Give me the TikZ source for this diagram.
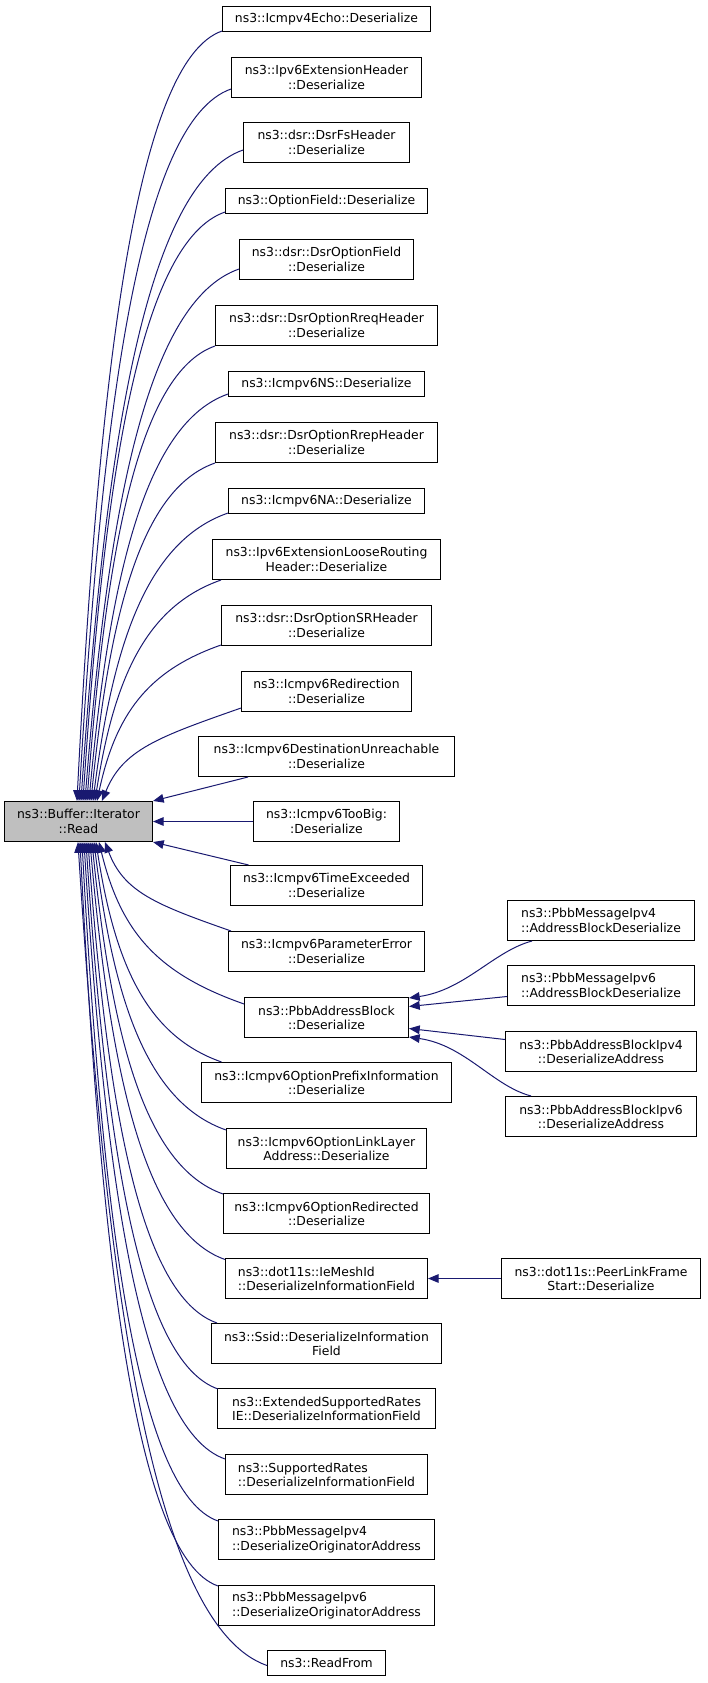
\documentclass[tikz,border=0pt]{standalone}
\usepackage{fontspec}
\setmainfont{DejaVu Sans}
\usetikzlibrary{arrows.meta}
\definecolor{edgeblue}{HTML}{191970}
\definecolor{rootgray}{HTML}{BFBFBF}
\begin{document}
\begin{tikzpicture}[x=0.75pt,y=-0.75pt,
  box/.style={draw=black, line width=0.8pt, fill=white, inner sep=0pt, align=center,
    font=\fontsize{9.3}{10.7}\selectfont, minimum height=30pt},
  one/.style={minimum height=18.75pt},
  lft/.style={align=left},
  bw/.style={minimum width=#1*0.75pt},
  call/.style={draw=edgeblue, line width=0.75pt, -{Triangle[length=8pt,width=6.5pt]}}]
\useasboundingbox (0,0) rectangle (707,1683);

\node[box, fill=rootgray, bw=148] (read) at (78.5,821.5) {ns3::Buffer::Iterator\\::Read};

\node[box, bw=208, one] (n1) at (326.5,19) {ns3::Icmpv4Echo::Deserialize};
\node[box, bw=190] (n2) at (326.5,77.5) {ns3::Ipv6ExtensionHeader\\::Deserialize};
\node[box, bw=166] (n3) at (326.5,142.5) {ns3::dsr::DsrFsHeader\\::Deserialize};
\node[box, bw=202, one] (n4) at (326.5,201) {ns3::OptionField::Deserialize};
\node[box, bw=174] (n5) at (326.5,259.5) {ns3::dsr::DsrOptionField\\::Deserialize};
\node[box, bw=222] (n6) at (326.5,325.5) {ns3::dsr::DsrOptionRreqHeader\\::Deserialize};
\node[box, bw=196, one] (n7) at (326.5,384) {ns3::Icmpv6NS::Deserialize};
\node[box, bw=222] (n8) at (326.5,442.5) {ns3::dsr::DsrOptionRrepHeader\\::Deserialize};
\node[box, bw=196, one] (n9) at (326.5,501) {ns3::Icmpv6NA::Deserialize};
\node[box, bw=228] (n10) at (326.5,559.5) {ns3::Ipv6ExtensionLooseRouting\\Header::Deserialize};
\node[box, bw=210] (n11) at (326.5,625.5) {ns3::dsr::DsrOptionSRHeader\\::Deserialize};
\node[box, bw=170] (n12) at (326.5,691.5) {ns3::Icmpv6Redirection\\::Deserialize};
\node[box, bw=256] (n13) at (326.5,756.5) {ns3::Icmpv6DestinationUnreachable\\::Deserialize};
\node[box, bw=146] (n14) at (326.5,821.5) {ns3::Icmpv6TooBig:\\:Deserialize};
\node[box, bw=192] (n15) at (326.5,885.5) {ns3::Icmpv6TimeExceeded\\::Deserialize};
\node[box, bw=196] (n16) at (326.5,951.5) {ns3::Icmpv6ParameterError\\::Deserialize};
\node[box, bw=164] (n17) at (326.5,1017.5) {ns3::PbbAddressBlock\\::Deserialize};
\node[box, bw=250] (n18) at (326.5,1082.5) {ns3::Icmpv6OptionPrefixInformation\\::Deserialize};
\node[box, bw=200] (n19) at (326.5,1148.5) {ns3::Icmpv6OptionLinkLayer\\Address::Deserialize};
\node[box, bw=206] (n20) at (326.5,1213.5) {ns3::Icmpv6OptionRedirected\\::Deserialize};
\node[box, bw=202, lft] (n21) at (326.5,1278.5) {ns3::dot11s::IeMeshId\\::DeserializeInformationField};
\node[box, bw=230] (n22) at (326.5,1343.5) {ns3::Ssid::DeserializeInformation\\Field};
\node[box, bw=218] (n23) at (326.5,1408.5) {ns3::ExtendedSupportedRates\\IE::DeserializeInformationField};
\node[box, bw=202, lft] (n24) at (326.5,1474.5) {ns3::SupportedRates\\::DeserializeInformationField};
\node[box, bw=216, lft] (n25) at (326.5,1539.5) {ns3::PbbMessageIpv4\\::DeserializeOriginatorAddress};
\node[box, bw=216, lft] (n26) at (326.5,1605.5) {ns3::PbbMessageIpv6\\::DeserializeOriginatorAddress};
\node[box, bw=118, one] (n27) at (326.5,1663) {ns3::ReadFrom};

\node[box, bw=187, lft] (r1) at (601,920.5) {ns3::PbbMessageIpv4\\::AddressBlockDeserialize};
\node[box, bw=187, lft] (r2) at (601,985.5) {ns3::PbbMessageIpv6\\::AddressBlockDeserialize};
\node[box, bw=191] (r3) at (601,1051.5) {ns3::PbbAddressBlockIpv4\\::DeserializeAddress};
\node[box, bw=191] (r4) at (601,1116.5) {ns3::PbbAddressBlockIpv6\\::DeserializeAddress};
\node[box, bw=199] (pl) at (601,1278.5) {ns3::dot11s::PeerLinkFrame\\Start::Deserialize};

% edges entering the top of Read
\draw[call] ([shift={(0,-1)}]n1.south west) .. controls +(-86.7,30.3) and +(21.7,-424) .. ([shift={(73,0)}]read.north west);
\draw[call] ([shift={(0,-9)}]n2.south west) .. controls +(-91.2,31.9) and +(22.8,-392) .. ([shift={(75,0)}]read.north west);
\draw[call] ([shift={(0,-13)}]n3.south west) .. controls +(-97.2,34) and +(24.3,-358) .. ([shift={(77,0)}]read.north west);
\draw[call] ([shift={(0,-2)}]n4.south west) .. controls +(-84.9,29.7) and +(21.2,-324.5) .. ([shift={(79,0)}]read.north west);
\draw[call] ([shift={(0,-11)}]n5.south west) .. controls +(-92.1,32.2) and +(23,-292.6) .. ([shift={(81,0)}]read.north west);
\draw[call] (n6.south west) .. controls +(-76.8,26.9) and +(19.2,-250) .. ([shift={(83,0)}]read.north west);
\draw[call] ([shift={(0,-3)}]n7.south west) .. controls +(-82.8,29) and +(20.7,-224.4) .. ([shift={(85,0)}]read.north west);
\draw[call] (n8.south west) .. controls +(-74.4,26) and +(18.6,-186) .. ([shift={(87,0)}]read.north west);
\draw[call] ([shift={(0,-1)}]n9.south west) .. controls +(-80.4,28.1) and +(20.1,-159) .. ([shift={(89,0)}]read.north west);
\draw[call] ([shift={(9,0)}]n10.south west) .. controls +(-75.6,26.5) and +(18.9,-121.6) .. ([shift={(91,0)}]read.north west);
\draw[call] ([shift={(0,-1)}]n11.south west) .. controls +(-74.1,25.9) and +(18.5,-85.8) .. ([shift={(93,0)}]read.north west);
\draw[call] ([shift={(0,-4)}]n12.south west) .. controls +(-83.1,29.1) and +(20.8,-51.2) .. ([shift={(98,0)}]read.north west);

% straight edges
\draw[call] ([shift={(50,0)}]n13.south west) -- (read.north east);
\draw[call] (n14.west) -- (read.east);
\draw[call] ([shift={(18.5,0)}]n15.north west) -- (read.south east);

% edges entering the bottom of Read
\draw[call] ([shift={(3,0)}]n16.north west) .. controls +(-75,-26.3) and +(18.8,50) .. ([shift={(101,0)}]read.south west);
\draw[call] ([shift={(0,7)}]n17.north west) .. controls +(-87,-30.5) and +(21.8,89.7) .. ([shift={(95,0)}]read.south west);
\draw[call] ([shift={(20.5,0)}]n18.north west) .. controls +(-75,-26.3) and +(18.8,121.6) .. ([shift={(92,0)}]read.south west);
\draw[call] ([shift={(0,2)}]n19.north west) .. controls +(-78.6,-27.5) and +(19.7,159) .. ([shift={(90,0)}]read.south west);
\draw[call] ([shift={(0,1)}]n20.north west) .. controls +(-78.3,-27.4) and +(19.6,194) .. ([shift={(88,0)}]read.south west);
\draw[call] ([shift={(0,1.5)}]n21.north west) .. controls +(-80.7,-28.2) and +(20.2,230.5) .. ([shift={(86,0)}]read.south west);
\draw[call] ([shift={(6,0)}]n22.north west) .. controls +(-76.8,-26.9) and +(19.2,265) .. ([shift={(84,0)}]read.south west);
\draw[call] ([shift={(1,1)}]n23.north west) .. controls +(-79.2,-27.7) and +(19.8,301.4) .. ([shift={(82,0)}]read.south west);
\draw[call] ([shift={(0,5)}]n24.north west) .. controls +(-84.3,-29.5) and +(21.1,339.9) .. ([shift={(80,0)}]read.south west);
\draw[call] ([shift={(0,2)}]n25.north west) .. controls +(-81.3,-28.5) and +(20.3,374) .. ([shift={(78,0)}]read.south west);
\draw[call] ([shift={(0,1)}]n26.north west) .. controls +(-82.5,-28.9) and +(20.6,409.8) .. ([shift={(76,0)}]read.south west);
\draw[call] ([shift={(0,2.5)}]n27.west) .. controls +(-113.4,-39.7) and +(28.4,453) .. ([shift={(74,0)}]read.south west);

% edges into PbbAddressBlock and IeMeshId
\draw[call] ([shift={(25,0)}]r1.south west) .. controls +(-38,10) and +(56,-8) .. ([shift={(0,1)}]n17.north east);
\draw[call] ([shift={(0,11)}]r2.west) -- ([shift={(0,-11)}]n17.east);
\draw[call] ([shift={(0,-12)}]r3.west) -- ([shift={(0,11)}]n17.east);
\draw[call] ([shift={(26,0)}]r4.north west) .. controls +(-38,-10) and +(56,8) .. ([shift={(0,-1)}]n17.south east);
\draw[call] (pl.west) -- (n21.east);
\end{tikzpicture}
\end{document}
